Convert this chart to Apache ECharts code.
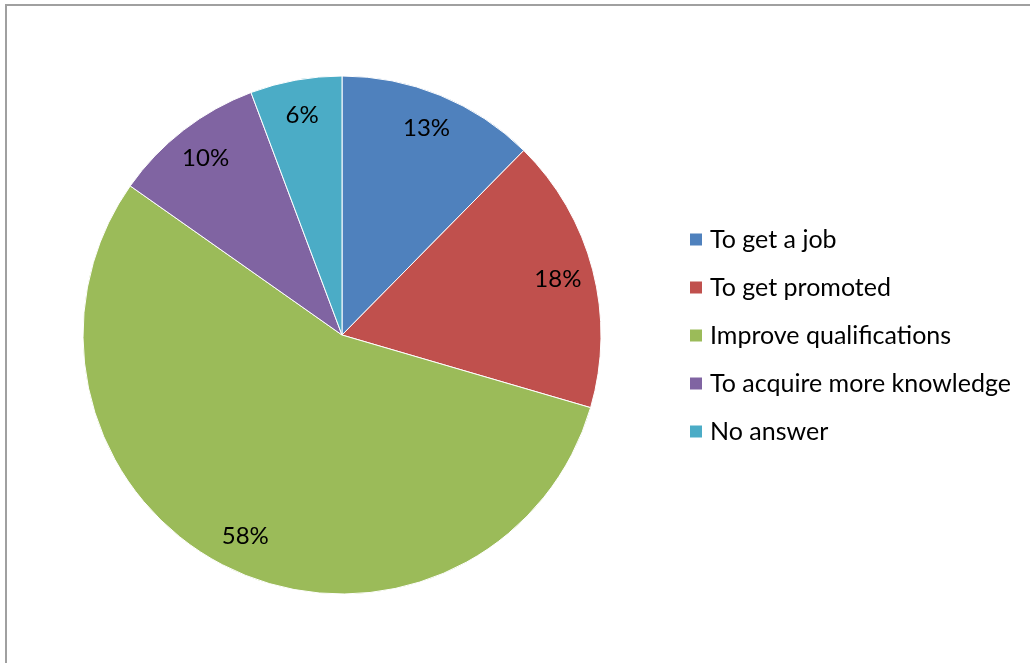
<!DOCTYPE html>
<html>
<head>
<meta charset="utf-8">
<script src="https://cdn.jsdelivr.net/npm/echarts@6/dist/echarts.min.js"></script>
<style>
  html, body { margin: 0; padding: 0; background: #fff; }
  #chart { width: 1030px; height: 663px; }
</style>
</head>
<body>
<div id="chart"></div>
<script>
// Reasons for studying: share of respondents (percent)
const categories = [
  'To get a job',
  'To get promoted',
  'Improve qualifications',
  'To acquire more knowledge',
  'No answer'
];
const values = [13, 18, 58, 10, 6];
const colors = ['#4F81BD', '#C0504D', '#9BBB59', '#8064A2', '#4BACC6'];

const FONT = 'Lato, "Open Sans", sans-serif';
const center = [342, 335];

const sliceData = categories.map((name, i) => ({
  name,
  value: values[i],
  itemStyle: { color: colors[i] }
}));

// Label ring: same slices, invisible fill, used to place the percent labels near the rim
const labelData = categories.map((name, i) => ({
  name,
  value: values[i]
}));

const chart = echarts.init(document.getElementById('chart'));
chart.setOption({
  animation: false,
  backgroundColor: '#ffffff',
  graphic: [{
    type: 'rect',
    shape: { x: 6, y: 5, width: 1040, height: 700 },
    style: { fill: 'none', stroke: '#a0a0a0', lineWidth: 2 },
    silent: true,
    z: -1
  }],
  legend: {
    orient: 'vertical',
    left: 683,
    top: 222,
    itemWidth: 14,
    itemHeight: 14,
    itemGap: 23,
    icon: 'rect',
    data: categories,
    textStyle: {
      fontFamily: FONT,
      fontSize: 25,
      lineHeight: 24,
      color: '#000',
      padding: [0, 0, 0, 2]
    }
  },
  series: [
    {
      type: 'pie',
      center,
      radius: 259,
      startAngle: 90,
      clockwise: true,
      silent: true,
      label: { show: false },
      labelLine: { show: false },
      itemStyle: { borderColor: '#ffffff', borderWidth: 1 },
      data: sliceData
    },
    {
      type: 'pie',
      center,
      radius: [181, 259],
      startAngle: 90,
      clockwise: true,
      silent: true,
      legendHoverLink: false,
      itemStyle: { color: 'rgba(0,0,0,0)', borderWidth: 0 },
      label: {
        show: true,
        position: 'inside',
        formatter: '{c}%',
        fontFamily: FONT,
        fontSize: 24,
        color: '#000'
      },
      labelLine: { show: false },
      data: labelData
    }
  ]
});
</script>
</body>
</html>
